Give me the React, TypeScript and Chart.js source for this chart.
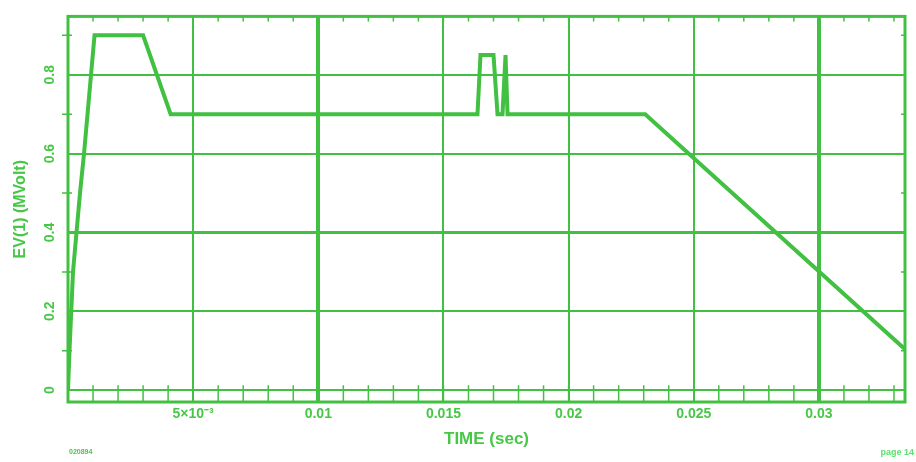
import React, { useEffect, useRef } from "react";
import { Chart, registerables } from "chart.js";

Chart.register(...registerables);

// Time (s) and EV(1) (MVolt)
const timeSec = [0, 0.00006, 0.0002, 0.00048, 0.00064, 0.00092, 0.00106, 0.003, 0.0041, 0.01636, 0.01648, 0.0170, 0.01716, 0.01736, 0.01748, 0.01756, 0.02306, 0.03344];
const evMVolt = [0, 0.1, 0.3, 0.5, 0.6, 0.8, 0.9, 0.9, 0.7, 0.7, 0.85, 0.85, 0.7, 0.7, 0.85, 0.7, 0.7, 0.104];

const xTickValues = [0.005, 0.01, 0.015, 0.02, 0.025, 0.03];
const xTickLabels = ["5×10⁻³", "0.01", "0.015", "0.02", "0.025", "0.03"];
const yTickValues = [0, 0.2, 0.4, 0.6, 0.8];
const yTickLabels = ["0", "0.2", "0.4", "0.6", "0.8"];
const xThick = [0.01, 0.03];
const yThick = [0.4];

const xMin = 0;
const xMax = 0.03344;
const yMin = -0.03;
const yMax = 0.948;
const xMinorStep = 0.001;
const yMinorStep = 0.1;

const GREEN = "rgb(66,192,66)";
const TEXT_GREEN = "rgb(70,200,70)";
const FONT = "'Liberation Sans', Arial, sans-serif";

const near = (a: number, list: number[]) => list.some((v) => Math.abs(v - a) < 1e-9);

const framePlugin = {
  id: "framePlugin",
  afterDraw(chart: any) {
    const { ctx, chartArea: a, scales } = chart;
    const xs = scales.x;
    const ys = scales.y;
    ctx.save();
    ctx.strokeStyle = GREEN;
    // minor ticks on x (top and bottom)
    ctx.lineWidth = 1.5;
    const y0 = ys.getPixelForValue(0);
    for (let v = xMinorStep; v < xMax; v += xMinorStep) {
      const px = xs.getPixelForValue(v);
      ctx.beginPath();
      ctx.moveTo(px, y0 - 5);
      ctx.lineTo(px, a.bottom);
      ctx.moveTo(px, a.top);
      ctx.lineTo(px, a.top + 5);
      ctx.stroke();
    }
    // minor ticks on y (left and right)
    for (let v = yMinorStep; v < yMax; v += 2 * yMinorStep) {
      const py = ys.getPixelForValue(v);
      ctx.beginPath();
      ctx.moveTo(a.left - 6, py);
      ctx.lineTo(a.left + 4, py);
      ctx.moveTo(a.right - 4, py);
      ctx.lineTo(a.right, py);
      ctx.stroke();
    }
    // frame
    ctx.lineWidth = 3;
    ctx.strokeRect(a.left, a.top, a.right - a.left, a.bottom - a.top);
    // corner footnotes
    ctx.fillStyle = TEXT_GREEN;
    ctx.font = `bold 7px ${FONT}`;
    ctx.textBaseline = "middle";
    ctx.textAlign = "left";
    ctx.fillText("020894", 69, 452);
    ctx.fillStyle = "rgb(90,225,110)";
    ctx.textAlign = "right";
    ctx.font = `bold 9px ${FONT}`;
    ctx.fillText("page 14", 914, 453);
    ctx.restore();
  },
};

export default function App() {
  const ref = useRef<HTMLCanvasElement | null>(null);
  useEffect(() => {
    if (!ref.current) return;
    const chart = new Chart(ref.current, {
      type: "line",
      data: {
        datasets: [
          {
            data: timeSec.map((t, i) => ({ x: t, y: evMVolt[i] })),
            borderColor: GREEN,
            borderWidth: 4,
            pointRadius: 0,
            tension: 0,
            fill: false,
          },
        ],
      },
      options: {
        animation: false,
        responsive: false,
        maintainAspectRatio: false,
        layout: { padding: { top: 6, right: 11, left: 0, bottom: 0 } },
        plugins: { legend: { display: false }, tooltip: { enabled: false } },
        scales: {
          x: {
            type: "linear",
            min: xMin,
            max: xMax,
            afterBuildTicks: (s: any) => {
              s.ticks = xTickValues.map((v) => ({ value: v }));
            },
            afterFit: (s: any) => {
              s.height = 60;
            },
            ticks: {
              color: TEXT_GREEN,
              font: { family: FONT, size: 14, weight: "bold" },
              padding: 4,
              maxRotation: 0,
              autoSkip: false,
              callback: (v: any) => {
                const i = xTickValues.findIndex((t) => Math.abs(t - v) < 1e-9);
                return i >= 0 ? xTickLabels[i] : "";
              },
            },
            grid: {
              color: GREEN,
              drawTicks: false,
              lineWidth: (c: any) => (c.tick && near(c.tick.value, xThick) ? 4 : 2),
            },
            border: { display: false },
            title: {
              display: true,
              text: "TIME (sec)",
              color: TEXT_GREEN,
              font: { family: FONT, size: 17, weight: "bold" },
              padding: { top: 0, bottom: 12 },
            },
          },
          y: {
            type: "linear",
            min: yMin,
            max: yMax,
            afterBuildTicks: (s: any) => {
              s.ticks = yTickValues.map((v) => ({ value: v }));
            },
            afterFit: (s: any) => {
              s.width = 68;
            },
            ticks: {
              color: TEXT_GREEN,
              font: { family: FONT, size: 14, weight: "bold" },
              padding: 8,
              minRotation: 90,
              maxRotation: 90,
              crossAlign: "center",
              autoSkip: false,
              callback: (v: any) => {
                const i = yTickValues.findIndex((t) => Math.abs(t - v) < 1e-9);
                return i >= 0 ? yTickLabels[i] : "";
              },
            },
            grid: {
              color: GREEN,
              drawTicks: false,
              lineWidth: (c: any) => (c.tick && near(c.tick.value, yThick) ? 3 : 2),
            },
            border: { display: false },
            title: {
              display: true,
              text: "EV(1) (MVolt)",
              color: TEXT_GREEN,
              font: { family: FONT, size: 16, weight: "bold" },
              padding: { top: 11, bottom: 0 },
            },
          },
        },
      },
      plugins: [framePlugin],
    } as any);
    return () => chart.destroy();
  }, []);
  return (
    <div style={{ position: "fixed", left: 0, top: 0, width: 916, height: 462, background: "#fff" }}>
      <canvas ref={ref} width={916} height={462} style={{ width: 916, height: 462 }} />
    </div>
  );
}
